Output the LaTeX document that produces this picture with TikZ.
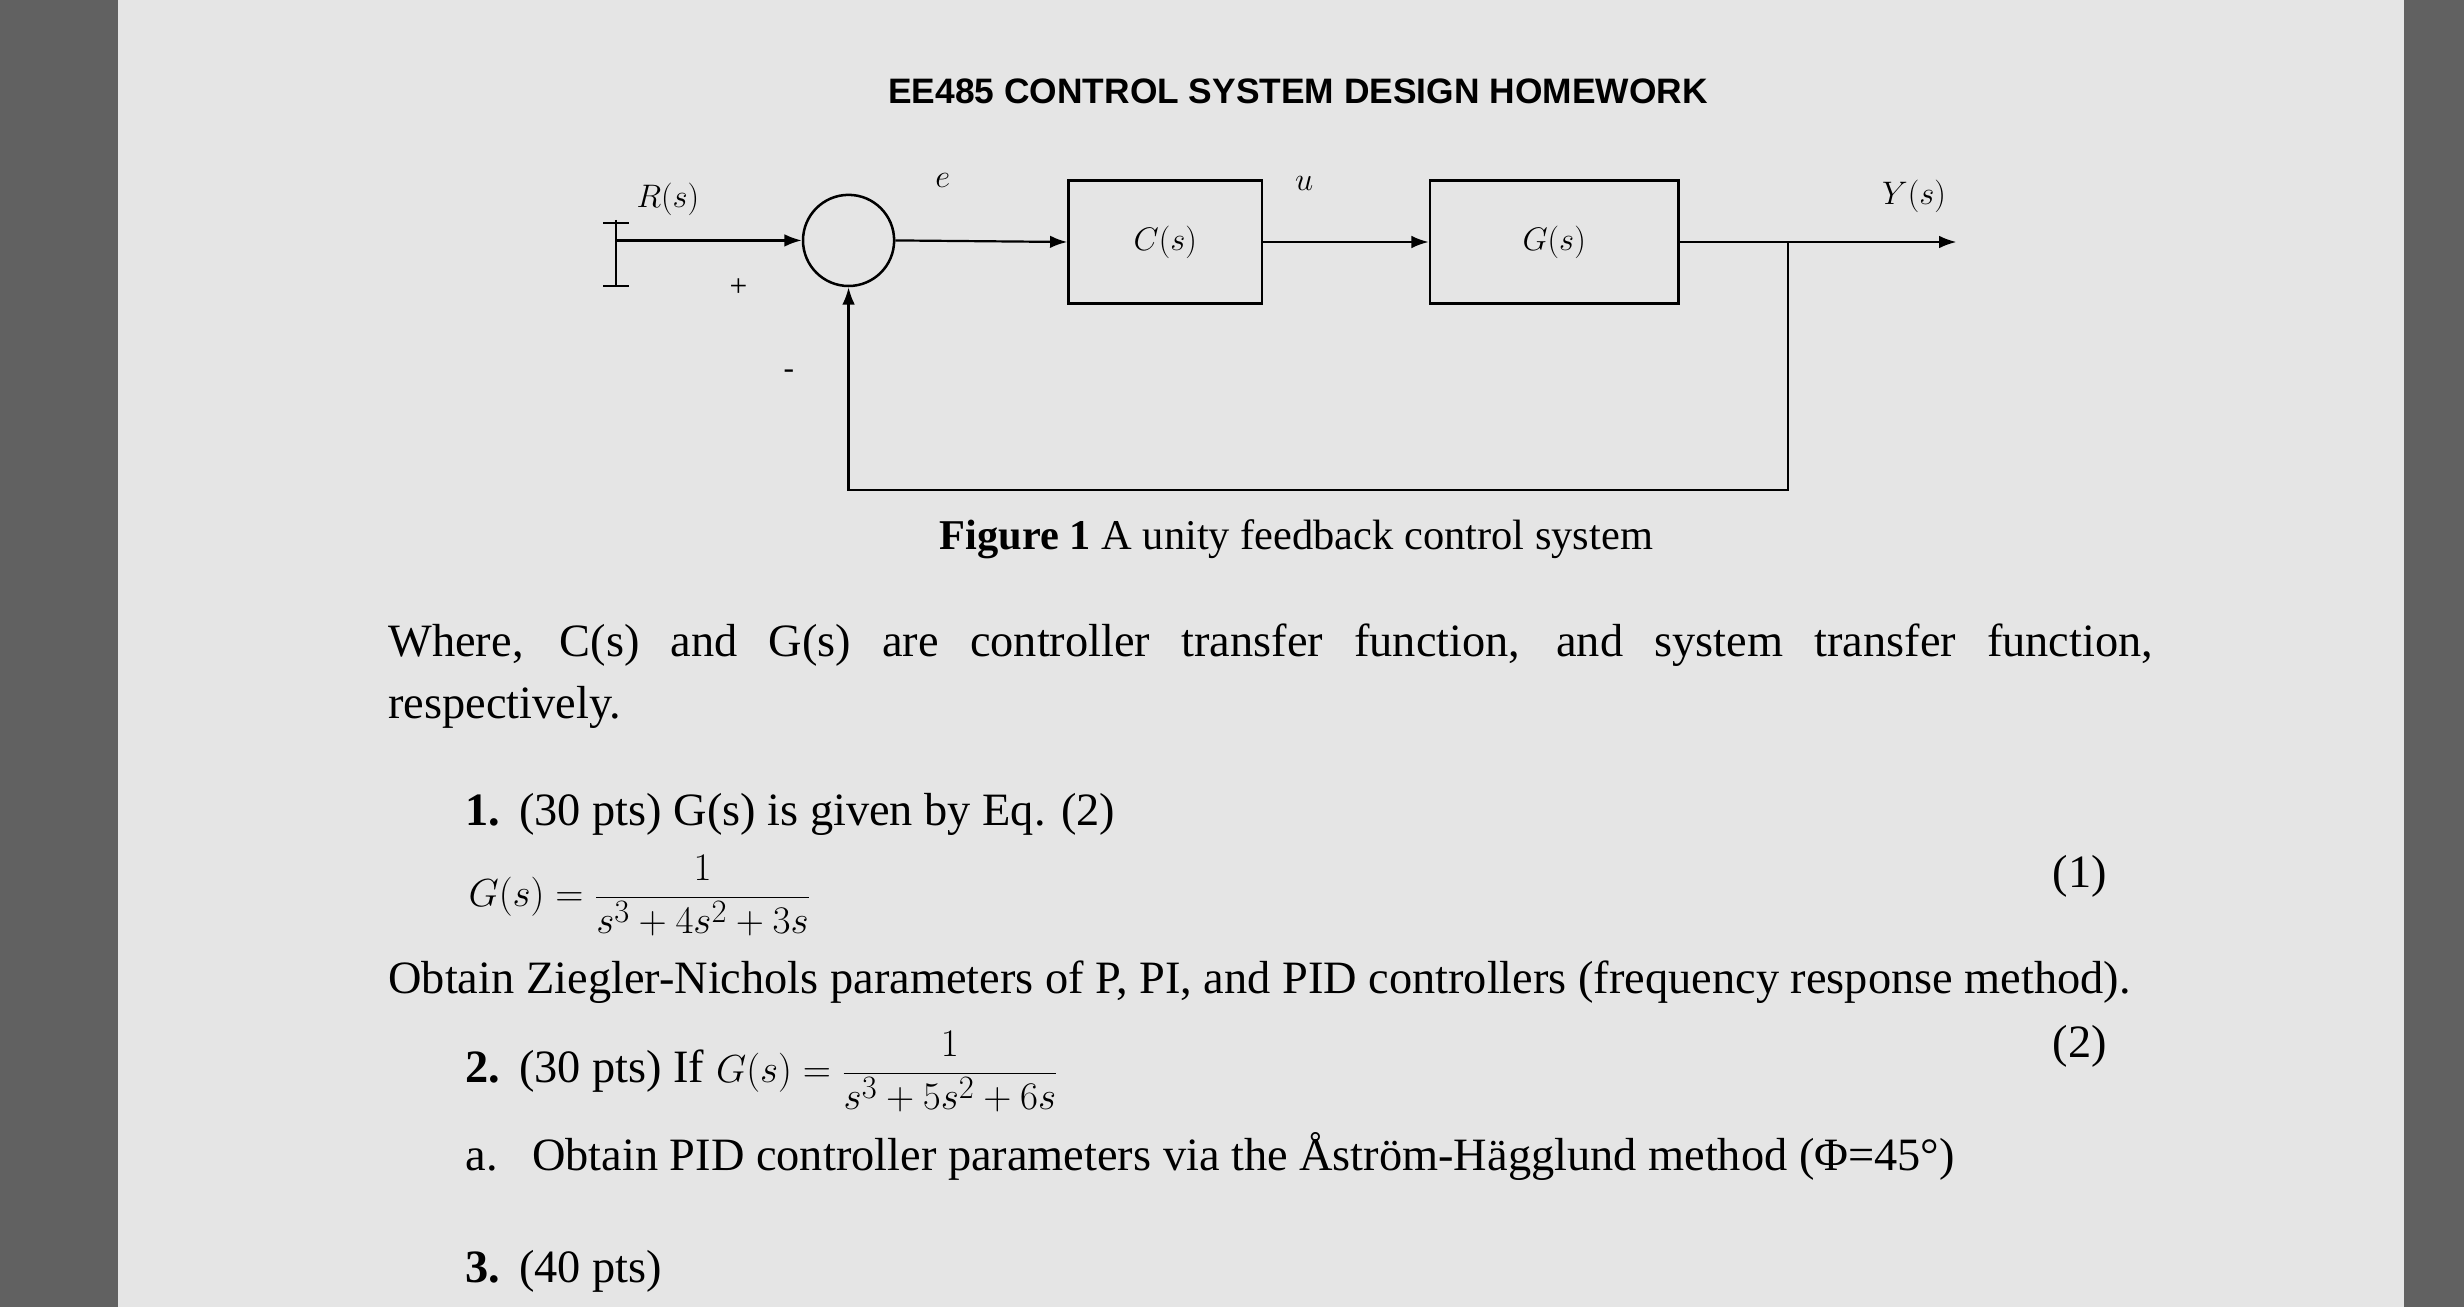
\documentclass[tikz,border=0pt]{standalone}
\usepackage{fontspec}
\setmainfont{Liberation Serif}
\newfontfamily\titlefont{Liberation Sans}
\usetikzlibrary{arrows.meta}
\begin{document}
\begin{tikzpicture}[x=1pt,y=-1pt,
  blk/.style={draw,line width=1.6pt,minimum width=123pt,minimum height=78pt,font=\fontsize{20}{24}\selectfont},
  sig/.style={line width=1.4pt},
  arr/.style={sig,-{Latex[length=11pt,width=8pt]}},
  lbl/.style={font=\fontsize{20}{24}\selectfont},
  txt/.style={anchor=base west,inner sep=0pt,font=\fontsize{29.5}{40}\selectfont}]
\useasboundingbox (0,0) rectangle (1568,832);
\fill[black!62] (0,0) rectangle (1568,832);
\fill[black!10] (75,0) rectangle (1530,832);
\node[font=\titlefont\bfseries\fontsize{22.5}{27}\selectfont] (title) at (826,58) {EE485 CONTROL SYSTEM DESIGN HOMEWORK};
% diagram
\coordinate (in) at (392,153);
\node[draw,circle,line width=1.6pt,minimum size=58pt,inner sep=0pt] (sum) at (540,153) {};
\node[blk] (C) at (741.5,154) {$C(s)$};
\node[blk,minimum width=158pt] (G) at (989,154) {$G(s)$};
\coordinate (out) at (1245,154);
\coordinate (br) at (1138,154);
\coordinate (fb1) at (1138,312);
\coordinate (fb2) at (540,312);
\draw[sig] (392,140) -- (392,182);
\draw[sig] (384,142) -- (400,142);
\draw[sig] (384,182) -- (400,182);
\draw[arr] (in) -- (sum.west);
\draw[arr] (sum.east) -- (C.west);
\draw[arr] (C.east) -- (G.west);
\draw[arr] (G.east) -- (out);
\draw[arr] (br) -- (fb1) -- (fb2) -- (sum.south);
\node[lbl] (R) at (425,127) {$R(s)$};
\node[lbl] (plus) at (470,183) {+};
\node[lbl] (minus) at (502,238) {-};
\node[lbl] (e) at (600,115) {$e$};
\node[lbl] (u) at (830,117) {$u$};
\node[lbl] (Y) at (1218,125) {$Y(s)$};
\node[font=\fontsize{27}{32}\selectfont] (cap) at (825,343) {\textbf{Figure 1} A unity feedback control system};
% text
\node[txt] (p1) at (247,418) {\makebox[1123pt][s]{Where, C(s) and G(s) are controller transfer function, and system transfer function,}};
\node[txt] (p2) at (247,457) {respectively.};
\node[txt] (i1) at (296,525) {\textbf{1.}\hspace{12pt}(30 pts) G(s) is given by Eq. (2)};
\node[txt,anchor=west] (eq1) at (298,570) {$\displaystyle G(s)=\frac{1}{s^3+4s^2+3s}$};
\node[txt] (n1) at (1306,565) {(1)};
\node[txt] (ob) at (247,632) {Obtain Ziegler-Nichols parameters of P, PI, and PID controllers (frequency response method).};
\node[txt,anchor=west] (i2) at (296,682) {\textbf{2.}\hspace{12pt}(30 pts) If $\displaystyle G(s)=\frac{1}{s^3+5s^2+6s}$};
\node[txt] (n2) at (1306,673) {(2)};
\node[txt] (ia) at (296,745) {a.\hspace{22pt}Obtain PID controller parameters via the Åström-Hägglund method (Φ=45°)};
\node[txt] (i3) at (296,816) {\textbf{3.}\hspace{12pt}(40 pts)};
\end{tikzpicture}
\end{document}
